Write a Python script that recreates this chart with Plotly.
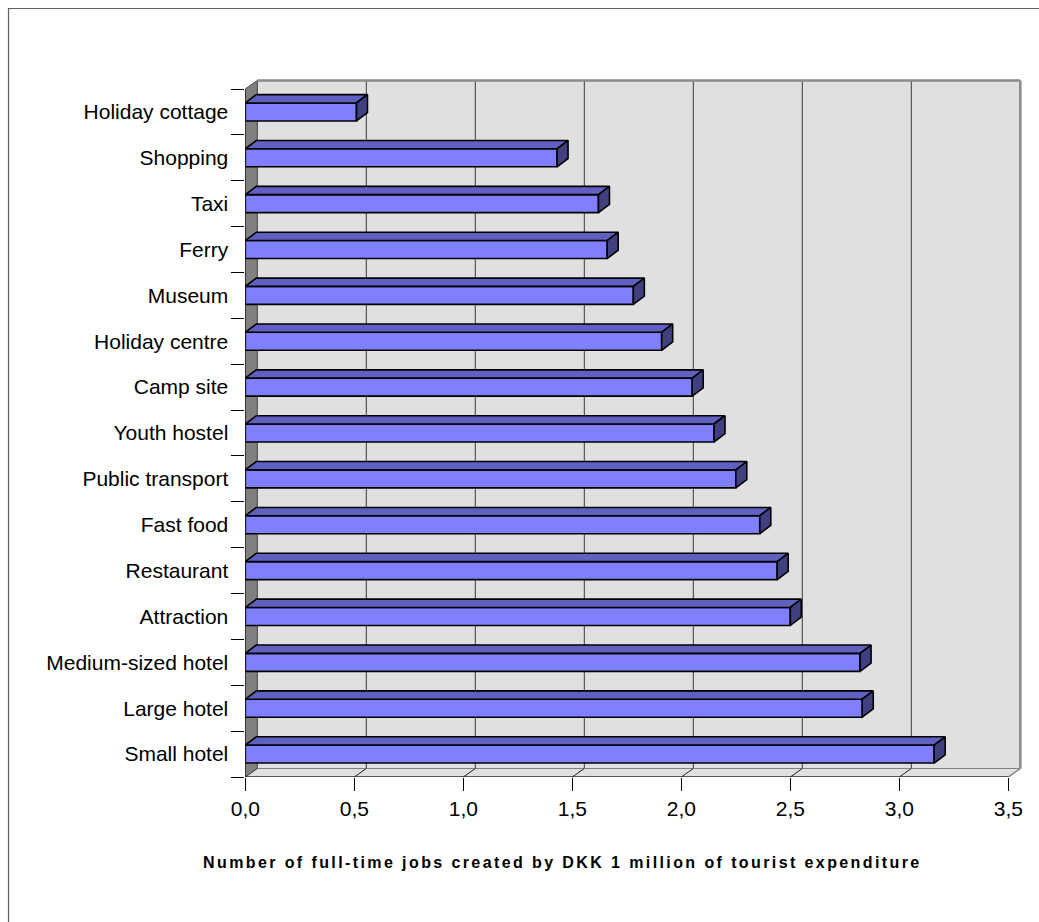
import plotly.graph_objects as go

# ---- data -------------------------------------------------------------
categories = [
    "Holiday cottage", "Shopping", "Taxi", "Ferry", "Museum", "Holiday centre",
    "Camp site", "Youth hostel", "Public transport", "Fast food", "Restaurant",
    "Attraction", "Medium-sized hotel", "Large hotel", "Small hotel",
]
jobs_per_million = [
    0.51, 1.43, 1.62, 1.66, 1.78, 1.91,
    2.05, 2.15, 2.25, 2.36, 2.44,
    2.50, 2.82, 2.83, 3.16,
]
x_tick_values = [0.0, 0.5, 1.0, 1.5, 2.0, 2.5, 3.0, 3.5]
x_tick_labels = ["0,0", "0,5", "1,0", "1,5", "2,0", "2,5", "3,0", "3,5"]
x_title = "Number of full-time jobs created by DKK 1 million of tourist expenditure"

# ---- page geometry (pixels) --------------------------------------------
W, H = 1039, 922
ORIGIN_PX = 245.3          # horizontal pixel of value 0 on the front plane
PX_PER_UNIT = 218.0        # horizontal pixels per unit of value
FRONT_TOP_PX = 89.0        # top of the front plane
FRONT_BOTTOM_PX = 777.0    # front edge of the floor
AREA_TOP_PX = 60.0
n = len(categories)
ROW_PX = (FRONT_BOTTOM_PX - FRONT_TOP_PX) / n

# oblique depth of walls and bars, converted to axis units
WALL_DX = 12.0 / PX_PER_UNIT
WALL_DY = 8.5 / ROW_PX
BAR_DX = 11.0 / PX_PER_UNIT
BAR_DY = 8.3 / ROW_PX
BAR_H = 18.0 / ROW_PX

x_lo, x_hi = x_tick_values[0], x_tick_values[-1]
y_lo, y_hi = -0.5, n - 0.5

positions = [n - 1 - i for i in range(n)]

FONT = "Liberation Sans, Arial, sans-serif"
FRONT_COL = "#8080FF"
TOP_COL = "#6060C0"
SIDE_COL = "#404080"
WALL_COL = "#E0E0E0"
SIDE_WALL_COL = "#808080"

fig = go.Figure()

# front faces of the bars
fig.add_trace(go.Bar(
    x=jobs_per_million, y=positions, base=0, orientation="h", width=BAR_H,
    marker=dict(color=FRONT_COL, line=dict(color="black", width=1.6)),
    hoverinfo="skip", showlegend=False,
))

# top and right faces giving the bars their depth
top_x, top_y, side_x, side_y = [], [], [], []
for v, p in zip(jobs_per_million, positions):
    yt, yb = p + BAR_H / 2, p - BAR_H / 2
    top_x += [0, v, v + BAR_DX, BAR_DX, 0, None]
    top_y += [yt, yt, yt + BAR_DY, yt + BAR_DY, yt, None]
    side_x += [v, v, v + BAR_DX, v + BAR_DX, v, None]
    side_y += [yb, yt, yt + BAR_DY, yb + BAR_DY, yb, None]

fig.add_trace(go.Scatter(
    x=top_x, y=top_y, mode="lines", fill="toself", fillcolor=TOP_COL,
    line=dict(color="black", width=1.6), hoverinfo="skip", showlegend=False,
))
fig.add_trace(go.Scatter(
    x=side_x, y=side_y, mode="lines", fill="toself", fillcolor=SIDE_COL,
    line=dict(color="black", width=1.6), hoverinfo="skip", showlegend=False,
))

# ---- walls, floor and grid drawn behind the bars ----------------------------
shapes = []


def line(x0, y0, x1, y1, color, width):
    shapes.append(dict(type="line", xref="x", yref="y", x0=x0, y0=y0, x1=x1, y1=y1,
                       line=dict(color=color, width=width), layer="below"))


def poly(pts, fill, color, width):
    path = "M " + " L ".join(f"{a},{b}" for a, b in pts) + " Z"
    shapes.append(dict(type="path", xref="x", yref="y", path=path, fillcolor=fill,
                       line=dict(color=color, width=width), layer="below"))


# back wall
poly([(WALL_DX, y_lo + WALL_DY), (x_hi + WALL_DX, y_lo + WALL_DY),
      (x_hi + WALL_DX, y_hi + WALL_DY), (WALL_DX, y_hi + WALL_DY)],
     WALL_COL, WALL_COL, 0.5)
for v in x_tick_values[1:-1]:
    line(v + WALL_DX, y_lo + WALL_DY, v + WALL_DX, y_hi + WALL_DY, "#3a3a3a", 1)

# floor
poly([(x_lo, y_lo), (x_hi, y_lo), (x_hi + WALL_DX, y_lo + WALL_DY),
      (x_lo + WALL_DX, y_lo + WALL_DY)], WALL_COL, "#808080", 1)
for v in x_tick_values[1:-1]:
    line(v, y_lo, v + WALL_DX, y_lo + WALL_DY, "#202020", 1)

# side wall on the left
poly([(x_lo, y_lo), (x_lo + WALL_DX, y_lo + WALL_DY), (x_lo + WALL_DX, y_hi + WALL_DY),
      (x_lo, y_hi)], SIDE_WALL_COL, "#404040", 1)

# outer edges of the box
line(x_lo + WALL_DX, y_hi + WALL_DY, x_hi + WALL_DX, y_hi + WALL_DY, "#8a8a8a", 2.5)
line(x_hi + WALL_DX, y_lo + WALL_DY, x_hi + WALL_DX, y_hi + WALL_DY, "#8a8a8a", 2.5)
line(x_hi, y_lo, x_hi + WALL_DX, y_lo + WALL_DY, "#8a8a8a", 1.5)
line(x_lo, y_lo, x_hi, y_lo, "#000000", 1)
line(x_lo, y_lo, x_lo, y_hi, "#000000", 1)

# chart frame
shapes.append(dict(type="rect", xref="paper", yref="paper",
                   x0=8.5 / W, x1=1.05, y0=-0.05, y1=1 - 8.5 / H,
                   line=dict(color="#606060", width=1.2), fillcolor="rgba(0,0,0,0)",
                   layer="below"))

x_axis_max = (W - ORIGIN_PX) / PX_PER_UNIT
y_axis_max = y_hi + (FRONT_TOP_PX - AREA_TOP_PX) / ROW_PX
boundaries = [k - 0.5 for k in range(n + 1)]

fig.update_layout(
    width=W, height=H,
    margin=dict(l=0, r=0, t=0, b=0, autoexpand=False),
    paper_bgcolor="white", plot_bgcolor="white",
    showlegend=False,
    font=dict(family=FONT, color="black"),
    shapes=shapes,
    xaxis=dict(
        domain=[ORIGIN_PX / W, 1.0], range=[0, x_axis_max], automargin=False,
        tickmode="array", tickvals=x_tick_values, ticktext=x_tick_labels,
        ticks="outside", ticklen=13, tickwidth=1, tickcolor="black",
        tickfont=dict(size=21, family=FONT, color="black"),
        showgrid=False, zeroline=False, showline=False, fixedrange=True,
    ),
    yaxis=dict(
        domain=[(H - FRONT_BOTTOM_PX) / H, (H - AREA_TOP_PX) / H],
        range=[y_lo, y_axis_max], automargin=False,
        tickmode="array", tickvals=positions, ticktext=categories,
        ticks="", ticklabelstandoff=16,
        tickfont=dict(size=21, family=FONT, color="black"),
        minor=dict(tickmode="array", tickvals=boundaries, ticks="outside",
                   ticklen=13, tickwidth=1, tickcolor="black", showgrid=False),
        showgrid=False, zeroline=False, showline=False, fixedrange=True,
    ),
    annotations=[dict(
        xref="paper", yref="paper", x=562 / W, y=(H - 862) / H,
        xanchor="center", yanchor="middle", showarrow=False,
        text=f'<span style="letter-spacing:2.4px">{x_title}</span>',
        font=dict(family=FONT, size=16, color="black", weight="bold"),
    )],
)

fig.write_html("out.html")
